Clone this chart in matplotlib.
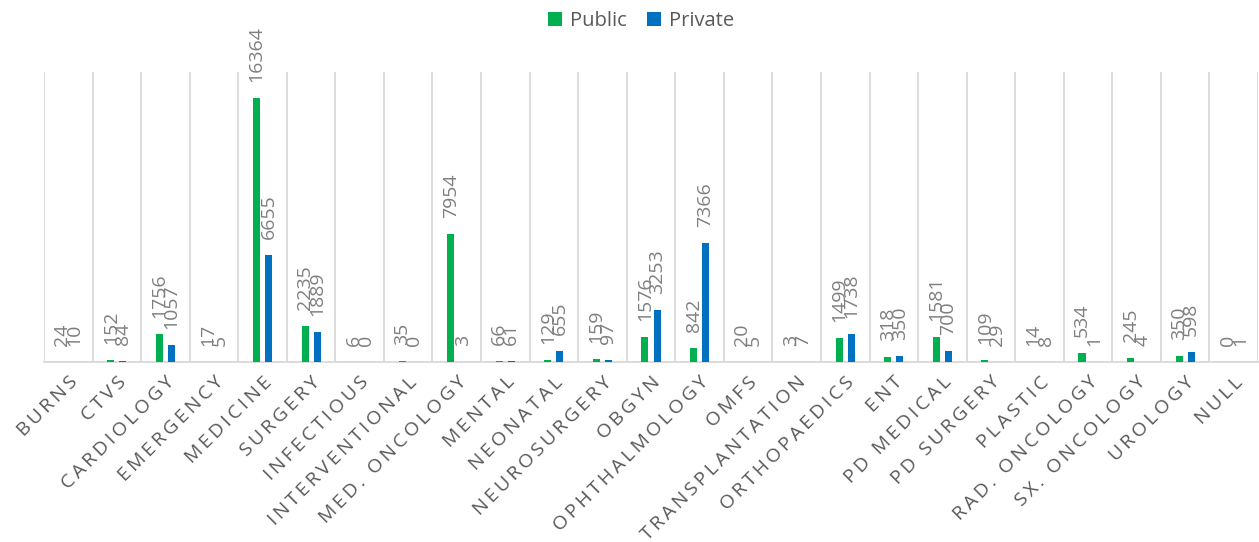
import numpy as np
import matplotlib
matplotlib.use("Agg")
import matplotlib.pyplot as plt

categories = ["BURNS", "CTVS", "CARDIOLOGY", "EMERGENCY", "MEDICINE", "SURGERY",
              "INFECTIOUS", "INTERVENTIONAL", "MED. ONCOLOGY", "MENTAL", "NEONATAL",
              "NEUROSURGERY", "OBGYN", "OPHTHALMOLOGY", "OMFS", "TRANSPLANTATION",
              "ORTHOPAEDICS", "ENT", "PD MEDICAL", "PD SURGERY", "PLASTIC",
              "RAD. ONCOLOGY", "SX. ONCOLOGY", "UROLOGY", "NULL"]
public = [24, 152, 1756, 17, 16364, 2235, 6, 35, 7954, 66, 129, 159, 1576, 842,
          20, 3, 1499, 318, 1581, 109, 14, 534, 245, 350, 0]
private = [10, 84, 1057, 5, 6655, 1889, 0, 0, 3, 61, 655, 97, 3253, 7366,
           5, 7, 1738, 350, 700, 29, 8, 1, 4, 598, 1]

GREEN = "#00B050"
BLUE = "#0070C0"
LABEL_GRAY = "#7F7F7F"
TEXT_GRAY = "#595959"
GRID = "#D9D9D9"

plt.rcParams['font.family'] = ['Open Sans', 'DejaVu Sans']

fig = plt.figure(figsize=(12.59, 5.42), dpi=100)
ax = fig.add_axes([44 / 1259, 180 / 542, 1214 / 1259, 290 / 542])

x = np.arange(len(categories))
w = 0.145
off = 0.124
b1 = ax.bar(x - off, public, w, color=GREEN, label="Public", zorder=3)
b2 = ax.bar(x + off, private, w, color=BLUE, label="Private", zorder=3)

# value labels, rotated like in the original
for bars, vals in ((b1, public), (b2, private)):
    for rect, v in zip(bars, vals):
        ax.annotate(str(v), (rect.get_x() + rect.get_width() / 2, rect.get_height()),
                    xytext=(0, 11.5), textcoords="offset points", rotation=90,
                    ha="center", va="bottom", fontsize=14, color=LABEL_GRAY,
                    annotation_clip=False)

ax.set_xlim(-0.5, len(categories) - 0.5)
ax.set_ylim(0, 18000)
ax.set_yticks([])

# category separators
ax.set_xticks(np.arange(len(categories) + 1) - 0.5, minor=True)
ax.grid(which="minor", axis="x", color=GRID, linewidth=1.3, zorder=0)
ax.tick_params(which="both", length=0)

spaced = ["\u2009".join(c) for c in categories]
ax.set_xticks(x)
ax.set_xticklabels(spaced, rotation=45, ha="right", rotation_mode="anchor",
                   fontsize=14, color=TEXT_GRAY)
ax.tick_params(axis="x", which="major", pad=8)

for s in ("top", "right", "left"):
    ax.spines[s].set_visible(False)
ax.spines["bottom"].set_color(GRID)
ax.spines["bottom"].set_linewidth(1.3)

fig.legend(handles=[b1, b2], labels=["Public", "Private"], loc="center",
           bbox_to_anchor=(641 / 1259, 1 - 21 / 542), ncol=2, frameon=False,
           fontsize=14.5, labelcolor=TEXT_GRAY, handlelength=0.7, handleheight=0.7,
           handletextpad=0.4, columnspacing=1.0)

fig.savefig("out.png", dpi=100)
